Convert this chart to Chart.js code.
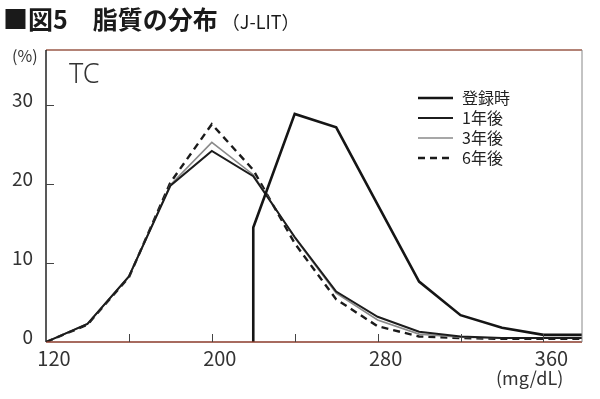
<!DOCTYPE html>
<html lang="ja">
<head>
    <meta charset="UTF-8">
    <title>図5 脂質の分布 (J-LIT)</title>
    <script src="https://cdn.jsdelivr.net/npm/chart.js"></script>
    <style>
        body {
            margin: 0;
            background: #fff;
            font-family: "Noto Sans CJK JP", sans-serif;
            color: #222;
        }
        #wrap {
            position: relative;
            width: 600px;
            height: 399px;
        }
        .txt {
            position: absolute;
            white-space: nowrap;
            line-height: 1;
        }
        #title { left: 3px; top: 6px; font-size: 25px; font-weight: bold; color: #1a1a1a; }
        #title small { font-size: 18px; font-weight: normal; margin-left: 4px; }
        #yunit { left: 12px; top: 47px; font-size: 16px; color: #333; }
        #tc { left: 69px; top: 59px; font-size: 27px; color: #333; font-family: "Noto Sans", sans-serif; font-weight: 300; }
        #xunit { left: 496px; top: 368px; font-size: 18px; color: #333; }
    </style>
</head>
<body>
<div id="wrap">
    <canvas id="tcChart" width="600" height="399"></canvas>
    <div class="txt" id="title">■図5　脂質の分布<small>（J-LIT）</small></div>
    <div class="txt" id="yunit">(%)</div>
    <div class="txt" id="tc">TC</div>
    <div class="txt" id="xunit">(mg/dL)</div>
</div>

<script>
    // TC distribution (mg/dL bins), values in %
    const tcBins = [120, 140, 160, 180, 200, 220, 240, 260, 280, 300, 320, 340, 360, 380];
    const year1 = [0, 2.3, 8.3, 19.8, 24.2, 21.0, 13.3, 6.4, 3.2, 1.3, 0.7, 0.5, 0.5, 0.5];
    const year3 = [0, 2.3, 8.3, 19.9, 25.3, 21.2, 13.2, 6.2, 2.8, 1.0, 0.6, 0.5, 0.5, 0.5];
    const year6 = [0, 2.2, 8.2, 20.2, 27.6, 21.8, 12.5, 5.4, 2.0, 0.7, 0.5, 0.4, 0.4, 0.4];

    // at registration only TC >= 220 (vertical edge at 220)
    const regBins = [220, 220, 240, 260, 280, 300, 320, 340, 360, 380];
    const regValues = [0, 14.5, 28.9, 27.2, 17.4, 7.65, 3.4, 1.8, 0.9, 0.9];

    const xLabelTicks = [120, 200, 280, 360];
    const xTickMarks = [160, 200, 240, 280, 320, 360];
    const yLabelTicks = [0, 10, 20, 30];
    const yTickMarks = [10, 20, 30];

    const legendLabels = ['登録時', '1年後', '3年後', '6年後'];

    function toPoints(xs, ys) {
        return xs.map((x, i) => ({ x: x, y: ys[i] }));
    }

    // frame, inward ticks and legend
    const framePlugin = {
        id: 'frame',
        afterDatasetsDraw(chart) {
            const { ctx, chartArea: a, scales } = chart;
            ctx.save();
            ctx.lineWidth = 1.5;
            ctx.strokeStyle = '#9a5a48';
            ctx.beginPath(); ctx.moveTo(a.left, a.top); ctx.lineTo(a.right, a.top); ctx.stroke();
            ctx.strokeStyle = '#8a3a2a';
            ctx.beginPath(); ctx.moveTo(a.left, a.bottom); ctx.lineTo(a.right, a.bottom); ctx.stroke();
            ctx.strokeStyle = '#888';
            ctx.lineWidth = 1;
            ctx.beginPath(); ctx.moveTo(a.right, a.top); ctx.lineTo(a.right, a.bottom); ctx.stroke();
            ctx.strokeStyle = '#222';
            ctx.lineWidth = 1.5;
            ctx.beginPath(); ctx.moveTo(a.left, a.top); ctx.lineTo(a.left, a.bottom); ctx.stroke();

            ctx.strokeStyle = '#444';
            ctx.lineWidth = 1;
            xTickMarks.forEach(v => {
                const px = Math.round(scales.x.getPixelForValue(v)) + 0.5;
                ctx.beginPath(); ctx.moveTo(px, a.bottom); ctx.lineTo(px, a.bottom - 8); ctx.stroke();
            });
            yTickMarks.forEach(v => {
                const py = Math.round(scales.y.getPixelForValue(v)) + 0.5;
                ctx.beginPath(); ctx.moveTo(a.left, py); ctx.lineTo(a.left + 8, py); ctx.stroke();
            });

            // legend
            const lx = 418, lw = 35, ly = 98, step = 20;
            ctx.font = '16px "Noto Sans CJK JP"';
            ctx.textBaseline = 'middle';
            ctx.fillStyle = '#222';
            chart.data.datasets.forEach((ds, i) => {
                const y = ly + i * step;
                ctx.strokeStyle = ds.borderColor;
                ctx.lineWidth = ds.borderWidth;
                ctx.setLineDash(ds.borderDash || []);
                ctx.beginPath(); ctx.moveTo(lx, y); ctx.lineTo(lx + lw, y); ctx.stroke();
                ctx.setLineDash([]);
                ctx.fillText(ds.label, lx + lw + 9, y);
            });
            ctx.restore();
        }
    };

    const ctx = document.getElementById('tcChart').getContext('2d');
    new Chart(ctx, {
        type: 'line',
        data: {
            datasets: [
                {
                    label: legendLabels[0],
                    data: toPoints(regBins, regValues),
                    borderColor: '#151515',
                    borderWidth: 2.6,
                    pointRadius: 0
                },
                {
                    label: legendLabels[1],
                    data: toPoints(tcBins, year1),
                    borderColor: '#1c1c1c',
                    borderWidth: 2,
                    pointRadius: 0
                },
                {
                    label: legendLabels[2],
                    data: toPoints(tcBins, year3),
                    borderColor: '#8a8a8a',
                    borderWidth: 1.6,
                    pointRadius: 0
                },
                {
                    label: legendLabels[3],
                    data: toPoints(tcBins, year6),
                    borderColor: '#1a1a1a',
                    borderWidth: 2.4,
                    borderDash: [7, 5],
                    pointRadius: 0
                }
            ]
        },
        options: {
            responsive: false,
            animation: false,
            layout: { padding: { top: 50, right: 18, left: 0, bottom: 0 } },
            scales: {
                x: {
                    type: 'linear',
                    min: 120,
                    max: 378.6,
                    afterFit: s => { s.height = 57; },
                    afterBuildTicks: s => { s.ticks = xLabelTicks.map(v => ({ value: v })); },
                    grid: { display: false, drawTicks: false },
                    border: { display: false },
                    ticks: {
                        padding: 4,
                        labelOffset: 8,
                        color: '#333',
                        font: { family: '"Noto Sans CJK JP"', size: 20 }
                    }
                },
                y: {
                    min: 0,
                    max: 37,
                    afterFit: s => { s.width = 46; },
                    afterBuildTicks: s => { s.ticks = yLabelTicks.map(v => ({ value: v })); },
                    grid: { display: false, drawTicks: false },
                    border: { display: false },
                    ticks: {
                        padding: 13,
                        labelOffset: -5,
                        color: '#333',
                        font: { family: '"Noto Sans CJK JP"', size: 19 }
                    }
                }
            },
            plugins: {
                legend: { display: false },
                tooltip: { enabled: false }
            }
        },
        plugins: [framePlugin]
    });
</script>
</body>
</html>
